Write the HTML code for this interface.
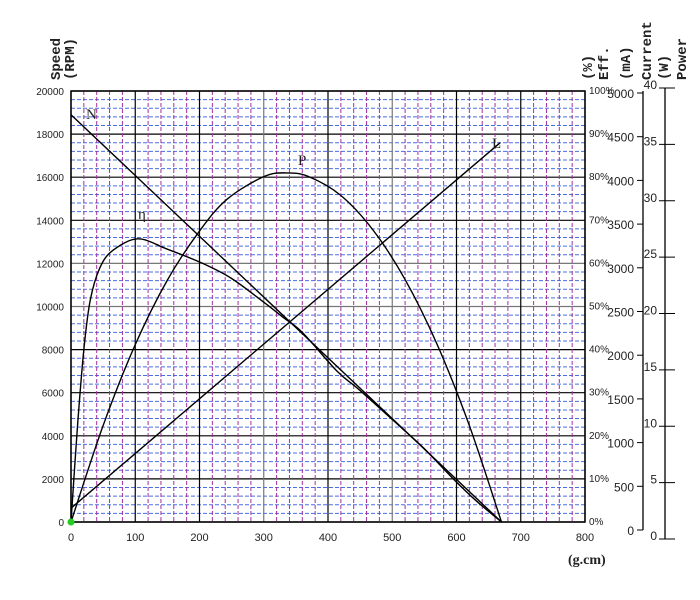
<!DOCTYPE html>
<html><head><meta charset="utf-8"><style>
body{margin:0;background:#fff;}
svg{display:block;font-family:"Liberation Sans",sans-serif;}
</style></head><body>
<svg id="c" width="700" height="600" viewBox="0 0 700 600">
<g id="grid"></g>
<g id="curves"></g>
<g id="axes"></g>
</svg>
<script>
const torque = [0,10,20,30,45,65,104,150,205,250,300,330,360,414,450,517,550,595,630,670];
const efficiency = [0,22,40,51.5,59,63,65.7,63.3,60,56.5,51,47.5,44,35,30.5,21.5,17,10,5,0];
const speedTorque = [0,670];
const speedValues = [18900,0];
const currentTorque = [0,668];
const currentValues = [160,4400];
const powerTorque = [0,50,100,150,200,243,300,335,370,420,470,520,570,620,670];
const powerValues = [0,8.95,16.46,22.45,27.0,29.96,32.05,32.4,32.05,30.3,27.1,22.5,16.46,8.95,0];
const xTicks = [0,100,200,300,400,500,600,700,800];
const yTicks = [0,2000,4000,6000,8000,10000,12000,14000,16000,18000,20000];
const effTicks = [0,10,20,30,40,50,60,70,80,90,100];
const curTicks = [0,500,1000,1500,2000,2500,3000,3500,4000,4500,5000];
const powTicks = [0,5,10,15,20,25,30,35,40];

const NS="http://www.w3.org/2000/svg";
const X0=71,X1=585,Y0=522,Y1=91;
const x=t=>X0+t*(X1-X0)/800;
const y=r=>Y0-r*(Y0-Y1)/20000;
const yE=e=>y(e*200);
const yC=c=>y(c*4);
const yCur=c=>530-c*(530-93)/5000;
const yPow=p=>539-p*(539-88)/40;
function mk(tag,attrs,parent,text){const e=document.createElementNS(NS,tag);for(const k in attrs)e.setAttribute(k,attrs[k]);if(text!==undefined)e.textContent=text;parent.appendChild(e);return e;}
const G=document.getElementById('grid'),C=document.getElementById('curves'),A=document.getElementById('axes');

for(let r=0;r<=20000;r+=400){
  const major=r%2000===0;
  const l=mk('line',{x1:X0,x2:X1,y1:y(r),y2:y(r),stroke:major?(r===10000||r===12000?'#777':'#000'):'#4a6fe0','stroke-width':major?1.2:1,'stroke-dasharray':major?'':'4,2'},G);
  
  
}
for(let t=0;t<=800;t+=20){
  const major=t%100===0;
  const l=mk('line',{x1:x(t),x2:x(t),y1:Y1,y2:Y0,stroke:major?(t===300||t===500?'#777':'#000'):'#a030a0','stroke-width':major?1.2:1,'stroke-dasharray':major?'':'4,2'},G);
  
  
}
const fr=mk('rect',{x:X0,y:Y1,width:X1-X0,height:Y0-Y1,fill:'none',stroke:'#000','stroke-width':1.5},G);



function path(tx,vals,fy,name,smooth){
  let pts=tx.map((t,i)=>[x(t),fy(vals[i])]);
  let d='M'+pts[0][0]+','+pts[0][1];
  if(smooth&&pts.length>2){
    for(let i=0;i<pts.length-1;i++){
      const p0=pts[i-1]||pts[i],p1=pts[i],p2=pts[i+1],p3=pts[i+2]||p2;
      const c1=[p1[0]+(p2[0]-p0[0])/6,p1[1]+(p2[1]-p0[1])/6];
      const c2=[p2[0]-(p3[0]-p1[0])/6,p2[1]-(p3[1]-p1[1])/6];
      d+=' C'+c1+' '+c2+' '+p2;
    }
  } else pts.slice(1).forEach(p=>d+=' L'+p[0]+','+p[1]);
  const e=mk('path',{d:d,fill:'none',stroke:'#000','stroke-width':1.4},C);
  
  
}
path(speedTorque,speedValues,y,'speed-line-n',false);
path(currentTorque,currentValues,yC,'current-line-l',false);
path(powerTorque,powerValues,p=>y(p*500),'power-curve-p',true);
path(torque,efficiency,yE,'efficiency-curve',true);

const labs=[['N',86,119],['η',138,219],['P',298,165],['L',492,148]];
labs.forEach(l=>{const e=mk('text',{x:l[1],y:l[2],'font-size':15,'font-family':'Liberation Serif, serif',fill:'#222'},C,l[0]);
  
  });
const dot=mk('circle',{cx:X0,cy:Y0,r:3.5,fill:'#2c2'},C);



xTicks.forEach(t=>{const e=mk('text',{x:x(t),y:541,'font-size':11,'text-anchor':'middle',fill:'#222'},A,String(t));
  
  });
yTicks.forEach(r=>{const e=mk('text',{x:64,y:y(r)+4,'font-size':10,'text-anchor':'end',fill:'#222'},A,String(r));
  
  });
effTicks.forEach(v=>{const e=mk('text',{x:589,y:yE(v)+3,'font-size':10,fill:'#222'},A,v+'%');
  
  });
const ca=mk('line',{x1:643,x2:643,y1:91,y2:530,stroke:'#000','stroke-width':1.3},A);


curTicks.forEach(v=>{const e=mk('text',{x:634,y:yCur(v)+5,'font-size':12,'text-anchor':'end',fill:'#222'},A,String(v));
  
  
  const t=mk('line',{x1:637,x2:643,y1:yCur(v),y2:yCur(v),stroke:'#000'},A);
  
  });
const pa=mk('line',{x1:665,x2:665,y1:88,y2:539,stroke:'#000','stroke-width':1.3},A);


powTicks.forEach(v=>{const e=mk('text',{x:657,y:yPow(v)+1,'font-size':12,'text-anchor':'end',fill:'#222'},A,String(v));
  
  
  const t=mk('line',{x1:659,x2:675,y1:yPow(v),y2:yPow(v),stroke:'#000'},A);
  
  });

const titles=[['Speed',60,'speed-title'],['(RPM)',74,'rpm-unit'],['(%)',592,'eff-unit'],['Eff.',608,'eff-title'],['(mA)',630,'current-unit'],['Current',651,'current-title'],['(W)',668,'power-unit'],['Power',686,'power-title']];
titles.forEach(t=>{const e=mk('text',{x:0,y:0,transform:'translate('+t[1]+',80) rotate(-90)','font-size':14,'font-weight':'bold','font-family':'Liberation Mono, monospace',fill:'#222'},A,t[0]);
  
  });
const xt=mk('text',{x:568,y:564,'font-size':14,'font-weight':'bold','font-family':'Liberation Serif, serif',fill:'#222'},A,'(g.cm)');


</script>
</body></html>
